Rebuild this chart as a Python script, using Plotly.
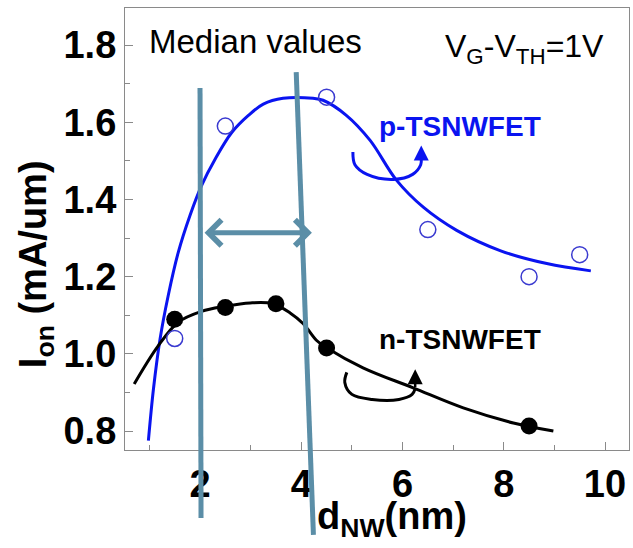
import plotly.graph_objects as go

# ---------------- data ----------------
p_x = [1.5, 2.5, 4.5, 6.5, 8.5, 9.5]
p_y = [1.04, 1.59, 1.665, 1.322, 1.20, 1.257]

n_x = [1.5, 2.5, 3.5, 4.5, 8.5]
n_y = [1.09, 1.12, 1.13, 1.015, 0.813]

p_fit_x = [0.98, 1.08, 1.21, 1.37, 1.57, 1.80, 2.03, 2.30, 2.63, 2.95, 3.25, 3.64, 4.23, 4.43, 4.89, 5.36, 5.88, 6.41, 7.07, 7.94, 8.85, 9.72]
p_fit_y = [0.775, 0.909, 1.038, 1.15, 1.263, 1.358, 1.436, 1.505, 1.574, 1.617, 1.647, 1.662, 1.662, 1.657, 1.618, 1.553, 1.45, 1.38, 1.32, 1.267, 1.234, 1.215]

n_fit_x = [0.70, 1.17, 1.57, 2.03, 2.49, 2.99, 3.44, 3.78, 4.04, 4.31, 4.5, 5.22, 6.21, 7.2, 8.19, 8.98]
n_fit_y = [0.922, 1.02, 1.082, 1.11, 1.123, 1.132, 1.13, 1.106, 1.078, 1.034, 1.016, 0.964, 0.912, 0.86, 0.821, 0.80]

# curl arrows (decoration) in data units
p_curl_x = [5.02, 5.06, 5.30, 5.82, 6.20, 6.36, 6.37]
p_curl_y = [1.523, 1.49, 1.465, 1.452, 1.465, 1.49, 1.505]
n_curl_x = [4.90, 4.86, 5.00, 5.40, 5.93, 6.19, 6.25]
n_curl_y = [0.952, 0.926, 0.895, 0.882, 0.882, 0.895, 0.91]

x_ticks = [2, 4, 6, 8, 10]
y_ticks = [0.8, 1.0, 1.2, 1.4, 1.6, 1.8]

TEAL = "#5b8ea7"
BLUE = "#0a14f0"
FONT = "Liberation Sans, Arial, sans-serif"

fig = go.Figure()

fig.add_trace(go.Scatter(x=p_fit_x, y=p_fit_y, mode="lines", line=dict(color=BLUE, width=3, shape="spline"), showlegend=False))
fig.add_trace(go.Scatter(x=n_fit_x, y=n_fit_y, mode="lines", line=dict(color="black", width=3, shape="spline"), showlegend=False))
fig.add_trace(go.Scatter(x=p_x, y=p_y, mode="markers",
                         marker=dict(symbol="circle-open", size=16, color="#3a3ad0", line=dict(width=1.5)), showlegend=False))
fig.add_trace(go.Scatter(x=n_x, y=n_y, mode="markers",
                         marker=dict(symbol="circle", size=17, color="black"), showlegend=False))
fig.add_trace(go.Scatter(x=p_curl_x, y=p_curl_y, mode="lines", line=dict(color=BLUE, width=3, shape="spline"), showlegend=False))
fig.add_trace(go.Scatter(x=n_curl_x, y=n_curl_y, mode="lines", line=dict(color="black", width=3, shape="spline"), showlegend=False))

# small arrowheads on curls
fig.add_annotation(x=6.37, y=1.54, ax=6.37, ay=1.50, xref="x", yref="y", axref="x", ayref="y",
                   text="", showarrow=True, arrowhead=2, arrowsize=1.2, arrowwidth=2.5, arrowcolor=BLUE)
fig.add_annotation(x=6.25, y=0.96, ax=6.25, ay=0.91, xref="x", yref="y", axref="x", ayref="y",
                   text="", showarrow=True, arrowhead=2, arrowsize=1.2, arrowwidth=2.5, arrowcolor="black")

# teal vertical lines (extend beyond the plot)
fig.add_shape(type="line", xref="x", yref="paper", x0=2.0, x1=2.02, y0=0.819, y1=-0.154,
              line=dict(color=TEAL, width=5))
fig.add_shape(type="line", xref="x", yref="paper", x0=3.9, x1=4.24, y0=0.855, y1=-0.192,
              line=dict(color=TEAL, width=5))

# double arrow
fig.add_annotation(x=4.21, y=1.314, ax=2.06, ay=1.314, xref="x", yref="y", axref="x", ayref="y",
                   text="", showarrow=True, arrowhead=4, startarrowhead=4, arrowside="end+start",
                   arrowsize=1.0, startarrowsize=1.0, arrowwidth=5, arrowcolor=TEAL)

# texts
fig.add_annotation(x=0.95, y=1.808, xref="x", yref="y", text="Median values", showarrow=False,
                   xanchor="left", yanchor="middle", font=dict(family=FONT, size=33, color="black"))
fig.add_annotation(x=10.02, y=1.79, xref="x", yref="y", text="V<sub>G</sub>-V<sub>TH</sub>=1V", showarrow=False,
                   xanchor="right", yanchor="middle", font=dict(family=FONT, size=32, color="black"))
fig.add_annotation(x=5.5, y=1.59, xref="x", yref="y", text="p-TSNWFET", showarrow=False,
                   xanchor="left", yanchor="middle", font=dict(family=FONT, size=28, color=BLUE, weight="bold"))
fig.add_annotation(x=5.5, y=1.038, xref="x", yref="y", text="n-TSNWFET", showarrow=False,
                   xanchor="left", yanchor="middle", font=dict(family=FONT, size=28, color="black", weight="bold"))
fig.add_annotation(x=4.27, y=-0.157, xref="x", yref="paper", text="d<sub>NW</sub>(nm)", showarrow=False,
                   xanchor="left", yanchor="middle", font=dict(family=FONT, size=38, color="black", weight="bold"))
fig.add_annotation(x=-0.175, y=0.42, xref="paper", yref="paper", text="I<sub>on</sub> (mA/um)", showarrow=False,
                   textangle=-90, xanchor="center", yanchor="middle",
                   font=dict(family=FONT, size=38, color="black", weight="bold"))

axis_common = dict(showline=True, linecolor="#8a8a8a", linewidth=1.2, mirror=True, ticks="inside",
                   tickcolor="#8a8a8a", ticklen=8, tickwidth=1.2, showgrid=False, zeroline=False,
                   tickfont=dict(family=FONT, size=38, color="black", weight="bold"))

fig.update_xaxes(range=[0.518, 10.474], tickvals=x_ticks, ticktext=[str(v) for v in x_ticks],
                 minor=dict(ticks="inside", dtick=1, tick0=0, ticklen=5, tickcolor="#8a8a8a"), **axis_common)
fig.update_yaxes(range=[0.751, 1.896], tickvals=y_ticks, ticktext=[f"{v:.1f}" for v in y_ticks],
                 minor=dict(ticks="inside", dtick=0.1, tick0=0, ticklen=5, tickcolor="#8a8a8a"), **axis_common)

fig.update_layout(width=633, height=548, margin=dict(l=125, r=4, t=8, b=98),
                  paper_bgcolor="white", plot_bgcolor="white", showlegend=False)

fig.write_html("out.html")
